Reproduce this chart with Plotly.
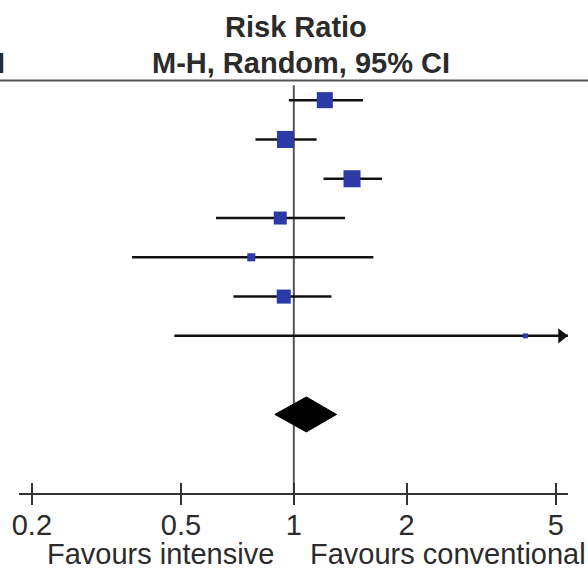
import math
import plotly.graph_objects as go

# Study-level risk ratios with 95% confidence intervals
rr = [1.21, 0.95, 1.43, 0.92, 0.77, 0.94, 4.15]
ci_low = [0.97, 0.79, 1.20, 0.62, 0.37, 0.69, 0.48]
ci_high = [1.53, 1.15, 1.72, 1.37, 1.63, 1.26, 36.0]
weights = [19.9, 22.4, 22.4, 13.1, 5.0, 15.2, 1.9]  # % weight (random effects)

# Pooled estimate (M-H, random effects)
pooled_rr = 1.08
pooled_low = 0.89
pooled_high = 1.30

tick_values = [0.2, 0.5, 1, 2, 5]
tick_labels = ["0.2", "0.5", "1", "2", "5"]

FONT = "Liberation Sans, Arial, sans-serif"
TEXT = "#2b2b2b"
BOX = "#2b3aa6"
W, H = 588, 571
ML, MR, MT, MB = 19, 20, 0, 78

x_range = [-0.7334, 0.7317]           # log10 units
y_range = [10, -2.55]                 # row units, top row = 0
pooled_row = len(rr) + 1
x_max = 10 ** x_range[1]

fig = go.Figure()

# Confidence-interval whiskers, clipped at the axis limit
for i, (lo, hi) in enumerate(zip(ci_low, ci_high)):
    fig.add_trace(go.Scatter(
        x=[lo, min(hi, x_max)], y=[i, i], mode="lines",
        line=dict(color="#111111", width=2.5), hoverinfo="skip",
    ))

# Arrow heads for intervals running off the scale
plot_w = W - ML - MR
px_per_dec = plot_w / (x_range[1] - x_range[0])
arrow_size = 13
arrow_rows = [i for i, hi in enumerate(ci_high) if hi > x_max]
fig.add_trace(go.Scatter(
    x=[10 ** (x_range[1] - (arrow_size / 2) / px_per_dec)] * len(arrow_rows),
    y=arrow_rows, mode="markers", cliponaxis=False, opacity=1,
    marker=dict(symbol="triangle-right", size=arrow_size, color="#111111"),
    hoverinfo="skip",
))

# Study boxes, area proportional to weight
fig.add_trace(go.Scatter(
    x=rr, y=list(range(len(rr))), mode="markers", opacity=1,
    marker=dict(symbol="square", color=BOX, opacity=1,
                size=[3.6 * math.sqrt(w) for w in weights],
                line=dict(width=0)),
    hoverinfo="skip",
))

# Pooled diamond
half_h = 0.445
fig.add_trace(go.Scatter(
    x=[pooled_low, pooled_rr, pooled_high, pooled_rr, pooled_low],
    y=[pooled_row, pooled_row - half_h, pooled_row, pooled_row + half_h, pooled_row],
    mode="lines", fill="toself", fillcolor="#000000",
    line=dict(color="#000000", width=1), hoverinfo="skip",
))

# Line of no effect and header rule
fig.add_shape(type="line", xref="x", yref="y", x0=1, x1=1, y0=-0.38, y1=y_range[0],
              line=dict(color="#555555", width=2), layer="below")
fig.add_shape(type="line", xref="paper", yref="y",
              x0=-ML / plot_w, x1=1 + MR / plot_w, y0=-0.5, y1=-0.5,
              line=dict(color="#555555", width=2))

axis_common = dict(
    type="log", range=x_range, autorange=False, fixedrange=True,
    tickvals=tick_values, showgrid=False, zeroline=False,
    ticklen=10, tickwidth=2, tickcolor="#333333",
)

fig.update_layout(
    width=W, height=H,
    margin=dict(l=ML, r=MR, t=MT, b=MB, pad=0),
    paper_bgcolor="white", plot_bgcolor="white",
    showlegend=False,
    xaxis=dict(**axis_common, ticks="outside", ticktext=tick_labels,
               ticklabelstandoff=-5,
               showline=True, linecolor="#333333", linewidth=2,
               tickfont=dict(family=FONT, size=29, color=TEXT)),
    xaxis2=dict(**axis_common, ticks="inside", showticklabels=False,
                overlaying="x", anchor="y", side="bottom", showline=False),
    yaxis=dict(range=y_range, autorange=False, visible=False, fixedrange=True),
)

# invisible trace so the inner-tick axis is rendered
fig.add_trace(go.Scatter(x=[1], y=[y_range[0]], xaxis="x2", mode="markers",
                         marker=dict(opacity=0), hoverinfo="skip"))

plot_h = H - MT - MB


def ann(text, x_px, y_px, size=29, bold=False, xanchor="center"):
    fig.add_annotation(
        text=f"<b>{text}</b>" if bold else text,
        xref="paper", yref="paper",
        x=(x_px - ML) / plot_w, y=1 - (y_px - MT) / plot_h,
        xanchor=xanchor, yanchor="middle", showarrow=False,
        font=dict(family=FONT, size=size, color=TEXT),
    )


ann("Risk Ratio", 296, 27, bold=True)
ann("M-H, Random, 95% CI", 301, 63, bold=True)
ann("CI", 7, 63, bold=True, xanchor="right")
ann("Favours intensive", 276, 554, xanchor="right")
ann("Favours conventional", 308, 554, xanchor="left")

fig.write_html("out.html")
